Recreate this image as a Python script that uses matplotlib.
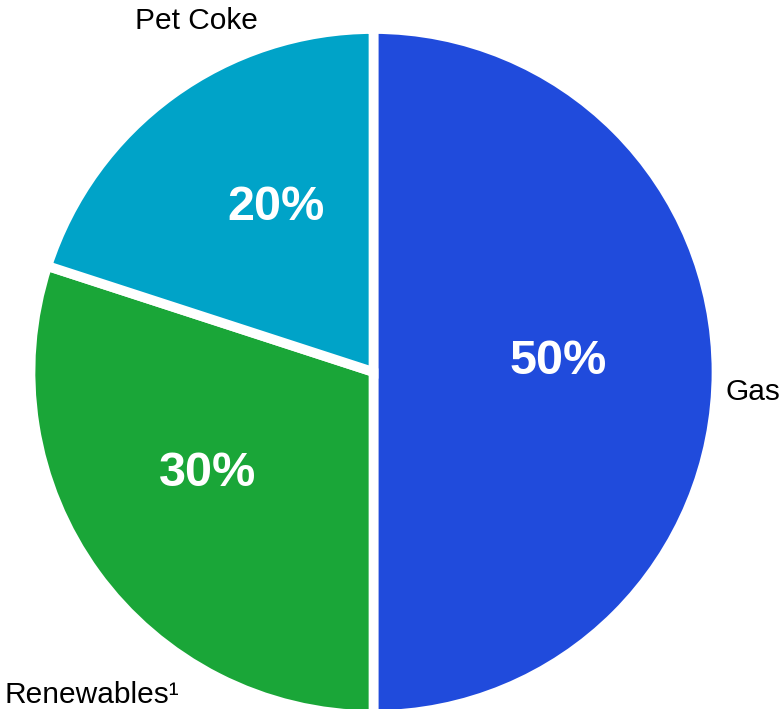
import matplotlib.pyplot as plt

plt.rcParams['font.family'] = ['Liberation Sans', 'DejaVu Sans']

labels = ["Gas", "Renewables\u00b9", "Pet Coke"]
shares = [50, 30, 20]
colors = ["#204BDC", "#1AA638", "#00A3C8"]

fig = plt.figure(figsize=(7.81, 7.09), dpi=100)
W, H = 781, 709
# pie centre (px from top-left) and radius incl. half the white edge
cx, cy, r = 373.5, 372, 343
ax = fig.add_axes([(cx - r) / W, (H - cy - r) / H, 2 * r / W, 2 * r / H])

ax.pie(shares, colors=colors, startangle=90, counterclock=False,
       radius=1, wedgeprops=dict(edgecolor="white", linewidth=7))
ax.set_xlim(-1, 1)
ax.set_ylim(-1, 1)
ax.set_aspect("equal")
ax.axis("off")

# percentage labels inside wedges
pct_pos = [(0.538, -0.006), (-0.485, -0.332), (-0.283, 0.443)]
for v, (x, y) in zip(shares, pct_pos):
    ax.text(x, y, f"{v}%", color="white", fontsize=35, fontweight="bold",
            ha="center", va="baseline")

# category labels outside
ax.text(1.025, -0.082, labels[0], fontsize=21.5, ha="left", va="baseline", clip_on=False)
ax.text(-1.077, -0.965, labels[1], fontsize=21.5, ha="left", va="baseline", clip_on=False)
ax.text(-0.515, 1.0, labels[2], fontsize=21.5, ha="center", va="baseline", clip_on=False)

fig.savefig("out.png", dpi=100)
